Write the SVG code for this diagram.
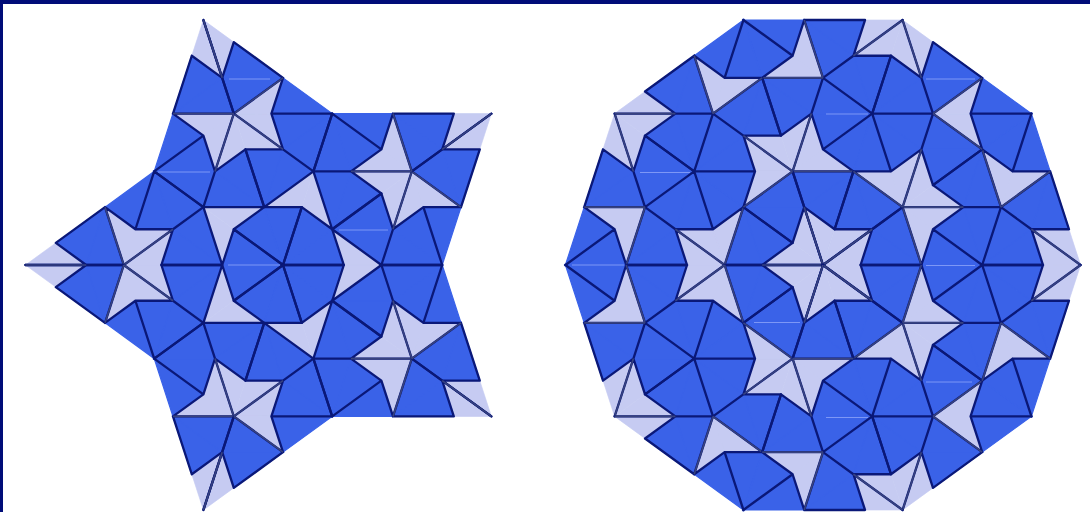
<svg xmlns="http://www.w3.org/2000/svg" width="1090" height="512" viewBox="0 0 1090 512">
<style>
.k{fill:#3a62e8;stroke:#3a62e8;stroke-width:1.2}
.d{fill:#c6cbf2;stroke:#c6cbf2;stroke-width:.6}
.e{fill:none;stroke:#0a1878;stroke-width:2.3;stroke-linejoin:round;stroke-linecap:round}
.g{fill:none;stroke:#38437f;stroke-width:1.6;stroke-linecap:butt}
.s{stroke:#7d97f6;stroke-width:1;fill:none}
</style>
<defs>
<g id="lf">
<path class="k" d="M0,0L-48.95,-35.57L-60.5,0ZM-60.5,0L-121.01,0L-109.45,-35.57ZM-60.5,0L-79.2,-57.55L-109.45,-35.57ZM-128.15,-93.11L-146.85,-35.57L-109.45,-35.57ZM-128.15,-93.11L-79.2,-57.55L-109.45,-35.57ZM-177.1,-57.55L-226.05,-21.98L-195.8,0ZM-177.1,-57.55L-158.4,0L-195.8,0ZM-128.15,-93.11L-146.85,-35.57L-177.1,-57.55Z"/>
<path class="d" d="M-79.2,-57.55L-60.5,0L-48.95,-35.57ZM-158.4,0L-109.45,-35.57L-121.01,0ZM-158.4,0L-109.45,-35.57L-146.85,-35.57ZM-256.3,0L-195.8,0L-226.05,-21.98ZM-158.4,0L-177.1,-57.55L-146.85,-35.57Z"/>
</g>
<path id="le" class="e" d="M0,0L-48.95,-35.57L-60.5,0M-60.5,0L-121.01,0L-109.45,-35.57M-60.5,0L-79.2,-57.55L-109.45,-35.57M-128.15,-93.11L-146.85,-35.57L-109.45,-35.57M-128.15,-93.11L-79.2,-57.55L-109.45,-35.57M-177.1,-57.55L-226.05,-21.98L-195.8,0M-177.1,-57.55L-158.4,0L-195.8,0M-128.15,-93.11L-146.85,-35.57L-177.1,-57.55M-79.2,-57.55L-60.5,0L-48.95,-35.57M-158.4,0L-109.45,-35.57L-121.01,0M-158.4,0L-109.45,-35.57L-146.85,-35.57M-256.3,0L-195.8,0L-226.05,-21.98M-158.4,0L-177.1,-57.55L-146.85,-35.57"/>
<path id="lg" class="g" d="M-158.4,0L-109.45,-35.57M-256.3,0L-195.8,0M-158.4,0L-177.1,-57.55"/>
<g id="rf">
<path class="k" d="M-79.2,-57.55L-30.25,-21.98L-60.5,0ZM-79.2,-57.55L-97.9,0L-60.5,0ZM-128.15,-93.11L-109.45,-35.57L-79.2,-57.55ZM-256.3,0L-207.35,-35.57L-195.8,0ZM-195.8,0L-135.29,0L-146.85,-35.57ZM-195.8,0L-177.1,-57.55L-146.85,-35.57ZM-128.15,-93.11L-109.45,-35.57L-146.85,-35.57ZM-128.15,-93.11L-177.1,-57.55L-146.85,-35.57ZM-256.3,0L-207.35,-35.57L-237.6,-57.55ZM-237.6,-57.55L-218.9,-115.09L-188.65,-93.11ZM-237.6,-57.55L-177.1,-57.55L-188.65,-93.11ZM-128.15,-93.11L-177.1,-128.67L-188.65,-93.11ZM-128.15,-93.11L-177.1,-57.55L-188.65,-93.11Z"/>
<path class="d" d="M0,0L-60.5,0L-30.25,-21.98ZM-97.9,0L-79.2,-57.55L-109.45,-35.57ZM-177.1,-57.55L-195.8,0L-207.35,-35.57ZM-97.9,0L-146.85,-35.57L-135.29,0ZM-97.9,0L-146.85,-35.57L-109.45,-35.57ZM-177.1,-57.55L-237.6,-57.55L-207.35,-35.57ZM-207.35,-150.65L-188.65,-93.11L-218.9,-115.09ZM-207.35,-150.65L-188.65,-93.11L-177.1,-128.67Z"/>
</g>
<path id="re" class="e" d="M-79.2,-57.55L-30.25,-21.98L-60.5,0M-79.2,-57.55L-97.9,0L-60.5,0M-128.15,-93.11L-109.45,-35.57L-79.2,-57.55M-256.3,0L-207.35,-35.57L-195.8,0M-195.8,0L-135.29,0L-146.85,-35.57M-195.8,0L-177.1,-57.55L-146.85,-35.57M-128.15,-93.11L-109.45,-35.57L-146.85,-35.57M-128.15,-93.11L-177.1,-57.55L-146.85,-35.57M-256.3,0L-207.35,-35.57L-237.6,-57.55M-237.6,-57.55L-218.9,-115.09L-188.65,-93.11M-237.6,-57.55L-177.1,-57.55L-188.65,-93.11M-128.15,-93.11L-177.1,-128.67L-188.65,-93.11M-128.15,-93.11L-177.1,-57.55L-188.65,-93.11M0,0L-60.5,0L-30.25,-21.98M-97.9,0L-79.2,-57.55L-109.45,-35.57M-177.1,-57.55L-195.8,0L-207.35,-35.57M-97.9,0L-146.85,-35.57L-135.29,0M-97.9,0L-146.85,-35.57L-109.45,-35.57M-177.1,-57.55L-237.6,-57.55L-207.35,-35.57M-207.35,-150.65L-188.65,-93.11L-218.9,-115.09M-207.35,-150.65L-188.65,-93.11L-177.1,-128.67"/>
<path id="rg" class="g" d="M0,0L-60.5,0M-97.9,0L-79.2,-57.55M-97.9,0L-146.85,-35.57M-177.1,-57.55L-195.8,0M-177.1,-57.55L-237.6,-57.55M-207.35,-150.65L-188.65,-93.11"/>
<g id="lsf"><use href="#lf"/><use href="#lf" transform="scale(1,-1)"/></g>
<g id="lse"><use href="#le"/><use href="#lg"/><use href="#le" transform="scale(1,-1)"/><use href="#lg" transform="scale(1,-1)"/></g>
<g id="rsf"><use href="#rf"/><use href="#rf" transform="scale(1,-1)"/></g>
<g id="rse"><use href="#re"/><use href="#rg"/><use href="#re" transform="scale(1,-1)"/><use href="#rg" transform="scale(1,-1)"/></g>
</defs>
<rect width="1090" height="512" fill="#fff"/>
<g id="star-tiling" transform="translate(283,265) scale(1.005)">
<g id="star-tiles">
<use href="#lsf"/><use href="#lsf" transform="rotate(72)"/><use href="#lsf" transform="rotate(144)"/><use href="#lsf" transform="rotate(216)"/><use href="#lsf" transform="rotate(288)"/>
</g>
<g id="star-edges">
<use href="#lse"/><use href="#lse" transform="rotate(72)"/><use href="#lse" transform="rotate(144)"/><use href="#lse" transform="rotate(216)"/><use href="#lse" transform="rotate(288)"/>
</g>
</g>
<g id="decagon-tiling" transform="translate(823,265) scale(1.005)">
<g id="decagon-tiles">
<use href="#rsf"/><use href="#rsf" transform="rotate(72)"/><use href="#rsf" transform="rotate(144)"/><use href="#rsf" transform="rotate(216)"/><use href="#rsf" transform="rotate(288)"/>
</g>
<g id="decagon-edges">
<use href="#rse"/><use href="#rse" transform="rotate(72)"/><use href="#rse" transform="rotate(144)"/><use href="#rse" transform="rotate(216)"/><use href="#rse" transform="rotate(288)"/>
</g>
</g>
<path id="seams" class="s" d="M228,265H280M158,172H210M229,79H270M339,230H388M572,265H624M640,172.500H690M826,114H868M926,79H975M926,265.500H975M754,322.500H800M926,382H972M826,417.500H868"/>
<path id="frame" d="M0,0H1090V4H3V512H0Z" fill="#000c78"/>
</svg>
